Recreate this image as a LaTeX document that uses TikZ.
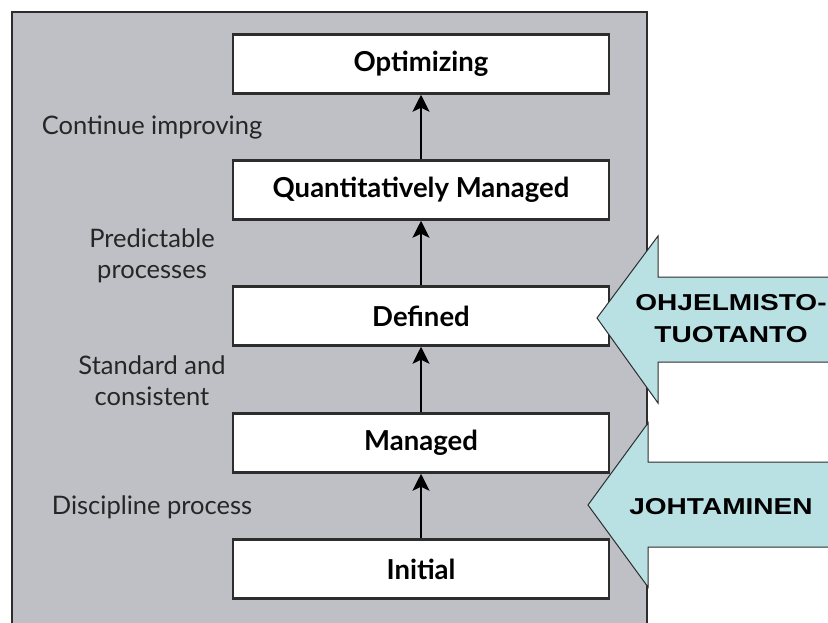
\documentclass[tikz,border=0pt]{standalone}
\usepackage{fontspec}
\usepackage{graphicx}
\setmainfont{Lato}
\newfontfamily\blockfont{Liberation Sans}
\usetikzlibrary{arrows.meta}
\definecolor{panelgray}{RGB}{191,192,197}
\definecolor{arrowblue}{RGB}{185,225,228}
\definecolor{edgegray}{RGB}{45,45,45}

\begin{document}
\begin{tikzpicture}[x=1pt, y=-1pt,
	stagebox/.style={rectangle, draw=edgegray, line width=2.5pt, fill=white, minimum width=376pt, minimum height=59pt, inner sep=0pt, font=\fontsize{27.5}{30}\selectfont\bfseries},
	sidenote/.style={align=center, text=black!85, font=\fontsize{25.5}{31}\selectfont},
	steparrow/.style={draw=black, line width=1.6pt, -{Stealth[length=17pt, width=17pt, inset=4pt]}},
	blockarrow/.style={fill=arrowblue, draw=edgegray, line width=1pt},
	blocktext/.style={align=center, font=\blockfont\fontsize{23}{32}\selectfont\bfseries}]
	\useasboundingbox (0,0) rectangle (828,622);
	\clip (0,0) rectangle (828,622);
	% gray panel
	\fill[panelgray] (12,12) rectangle (647,630);
	\draw[edgegray, line width=2.5pt] (12,630) -- (12,12) -- (647,12) -- (647,630);
	% maturity levels
	\foreach \name/\y/\txt in {optim/64/Optimizing, quant/190/Quantitatively Managed, defin/316/Defined, manag/443/Managed, initl/569/Initial} {
		\node[stagebox] (\name) at (421,\y) {\txt};
	}
	\foreach \from/\to in {initl/manag, manag/defin, defin/quant, quant/optim} {
		\draw[steparrow] (\from) -- (\to);
	}
	% side notes
	\node[sidenote] (improve) at (152,127) {Continue improving};
	\node[sidenote] (predict) at (152,256) {Predictable\\processes};
	\node[sidenote] (standard) at (152,381) {Standard and\\consistent};
	\node[sidenote] (discipline) at (152,507) {Discipline process};
	% block arrows
	\draw[blockarrow] (840,277) -- (658,277) -- (658,236) -- (597,318) -- (658,403) -- (658,362) -- (840,362);
	\draw[blockarrow] (840,462) -- (648,462) -- (648,423) -- (588,505) -- (648,587) -- (648,547) -- (840,547);
	\node[blocktext] (software) at (731,319) {\scalebox{1.22}[1]{OHJELMISTO-}\\\scalebox{1.22}[1]{TUOTANTO}};
	\node[blocktext] (leading) at (721,507) {\scalebox{1.22}[1]{JOHTAMINEN}};
\end{tikzpicture}
\end{document}
